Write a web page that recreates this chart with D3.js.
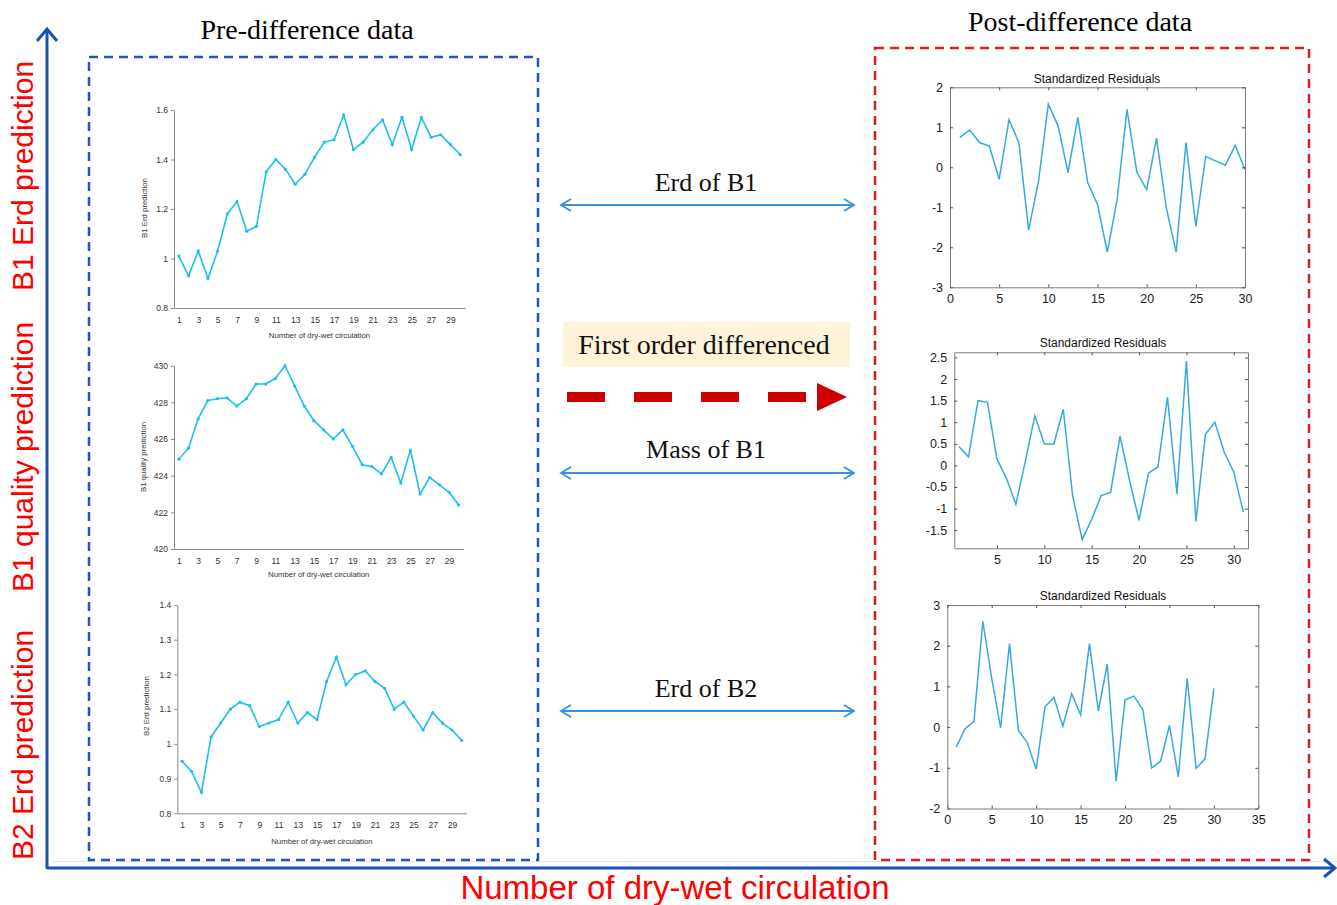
<!DOCTYPE html>
<html>
<head>
<meta charset="utf-8">
<script src="https://cdn.jsdelivr.net/npm/d3@7"></script>
<style>
  body { margin: 0; background: #fff; }
  svg { display: block; }
</style>
</head>
<body>
<script>
// cycles of the pre-difference series
const cycles = d3.range(1, 31);
const oddCycles = cycles.filter(d => d % 2 === 1);

// pre-difference data
const b1Erd = [1.01, 0.93, 1.03, 0.92, 1.03, 1.18, 1.23, 1.11, 1.13, 1.35, 1.40, 1.36, 1.30, 1.34, 1.41,
  1.47, 1.48, 1.58, 1.44, 1.47, 1.52, 1.56, 1.46, 1.57, 1.44, 1.57, 1.49, 1.50, 1.46, 1.42];
const b1Mass = [424.9, 425.5, 427.1, 428.1, 428.2, 428.25, 427.8, 428.2, 429.0, 429.0, 429.3, 430.0, 428.9, 427.8, 427.0,
  426.5, 426.0, 426.5, 425.6, 424.6, 424.5, 424.1, 425.0, 423.6, 425.4, 423.0, 423.9, 423.5, 423.1, 422.4];
const b2Erd = [0.95, 0.92, 0.86, 1.02, 1.06, 1.10, 1.12, 1.11, 1.05, 1.06, 1.07, 1.12, 1.06, 1.09, 1.07,
  1.18, 1.25, 1.17, 1.20, 1.21, 1.18, 1.16, 1.10, 1.12, 1.08, 1.04, 1.09, 1.06, 1.04, 1.01];

// post-difference standardized residuals
const resErdB1 = [0.75, 0.93, 0.62, 0.53, -0.30, 1.19, 0.62, -1.57, -0.35, 1.58, 1.03, -0.13, 1.25, -0.38, -0.93,
  -2.12, -0.80, 1.45, -0.12, -0.56, 0.73, -1.02, -2.12, 0.62, -1.48, 0.27, 0.16, 0.05, 0.55, -0.06];
const resMassB1 = [0.43, 0.20, 1.50, 1.46, 0.15, -0.30, -0.90, 0.10, 1.15, 0.50, 0.49, 1.30, -0.72, -1.72, -1.25,
  -0.70, -0.62, 0.68, -0.35, -1.27, -0.18, -0.03, 1.58, -0.66, 2.42, -1.30, 0.72, 1.00, 0.30, -0.15, -1.08];
const resErdB2 = [-0.49, -0.04, 0.14, 2.60, 1.20, -0.02, 2.05, -0.08, -0.38, -1.03, 0.50, 0.73, 0.02, 0.82, 0.30,
  2.05, 0.40, 1.55, -1.33, 0.67, 0.76, 0.43, -1.00, -0.84, 0.04, -1.22, 1.20, -1.01, -0.78, 0.95];

// tick values
const ticksB1Erd = [0.8, 1, 1.2, 1.4, 1.6];
const ticksB1Mass = [420, 422, 424, 426, 428, 430];
const ticksB2Erd = [0.8, 0.9, 1, 1.1, 1.2, 1.3, 1.4];
const resTicksY1 = [-3, -2, -1, 0, 1, 2];
const resTicksX1 = [0, 5, 10, 15, 20, 25, 30];
const resTicksY2 = [-1.5, -1, -0.5, 0, 0.5, 1, 1.5, 2, 2.5];
const resTicksX2 = [5, 10, 15, 20, 25, 30];
const resTicksY3 = [-2, -1, 0, 1, 2, 3];
const resTicksX3 = [0, 5, 10, 15, 20, 25, 30, 35];

const sideLabels = ["B1 Erd prediction", "B1 quality prediction", "B2 Erd prediction"];
const linkLabels = ["Erd of B1", "Mass of B1", "Erd of B2"];

const W = 1337, H = 905;
const sans = "Arial, 'Liberation Sans', Helvetica, sans-serif";
const serif = "'Times New Roman', 'Liberation Serif', serif";

const svg = d3.select("body").append("svg")
  .attr("width", W)
  .attr("height", H);

// ---- frame: big axes, boxes, titles ----
svg.append("line").attr("x1", 52).attr("x2", W).attr("y1", 861.5).attr("y2", 861.5)
  .attr("stroke", "#e2e2e2").attr("stroke-width", 1);

const axisBlue = "#1a50b8";
svg.append("line").attr("x1", 47).attr("y1", 869).attr("x2", 47).attr("y2", 29)
  .attr("stroke", axisBlue).attr("stroke-width", 3);
svg.append("path").attr("d", "M37,41 L47,29 L57,41").attr("fill", "none")
  .attr("stroke", axisBlue).attr("stroke-width", 3);
svg.append("line").attr("x1", 47).attr("y1", 868).attr("x2", 1335).attr("y2", 868)
  .attr("stroke", axisBlue).attr("stroke-width", 3);
svg.append("path").attr("d", "M1324,859 L1335,868 L1324,877").attr("fill", "none")
  .attr("stroke", axisBlue).attr("stroke-width", 3);

// red side labels
const sideY = [176, 457, 745];
sideLabels.forEach((t, i) => {
  svg.append("text")
    .attr("transform", `translate(33,${sideY[i]}) rotate(-90)`)
    .attr("text-anchor", "middle")
    .style("font-family", sans).style("font-size", "30px").attr("fill", "#f00")
    .text(t);
});
svg.append("text").attr("x", 675).attr("y", 899).attr("text-anchor", "middle")
  .style("font-family", sans).style("font-size", "33px").attr("fill", "#f00")
  .text("Number of dry-wet circulation");

// dashed boxes
svg.append("rect").attr("x", 89).attr("y", 57).attr("width", 449).attr("height", 803)
  .attr("fill", "none").attr("stroke", "#2254c4").attr("stroke-width", 2.5)
  .attr("stroke-dasharray", "9,6");
svg.append("rect").attr("x", 875).attr("y", 48).attr("width", 434).attr("height", 812)
  .attr("fill", "none").attr("stroke", "#d42222").attr("stroke-width", 2.5)
  .attr("stroke-dasharray", "9,6");

svg.append("text").attr("x", 307).attr("y", 39).attr("text-anchor", "middle")
  .style("font-family", serif).style("font-size", "28px").attr("fill", "#000")
  .text("Pre-difference data");
svg.append("text").attr("x", 1080).attr("y", 31).attr("text-anchor", "middle")
  .style("font-family", serif).style("font-size", "28px").attr("fill", "#000")
  .text("Post-difference data");

// ---- middle: links and the differencing arrow ----
const linkY = [205, 473, 711];
const linkTextY = [191, 458, 697];
const arrowBlue = "#3a92da";
linkLabels.forEach((t, i) => {
  const y = linkY[i];
  svg.append("text").attr("x", 706).attr("y", linkTextY[i]).attr("text-anchor", "middle")
    .style("font-family", serif).style("font-size", "26px").attr("fill", "#111")
    .text(t);
  svg.append("line").attr("x1", 561).attr("x2", 854).attr("y1", y).attr("y2", y)
    .attr("stroke", arrowBlue).attr("stroke-width", 1.8);
  svg.append("path").attr("d", `M571,${y - 6} L561,${y} L571,${y + 6}`)
    .attr("fill", "none").attr("stroke", arrowBlue).attr("stroke-width", 1.8);
  svg.append("path").attr("d", `M844,${y - 6} L854,${y} L844,${y + 6}`)
    .attr("fill", "none").attr("stroke", arrowBlue).attr("stroke-width", 1.8);
});

svg.append("rect").attr("x", 563).attr("y", 322).attr("width", 287).attr("height", 45)
  .attr("fill", "#fdf3d8");
svg.append("text").attr("x", 704).attr("y", 354).attr("text-anchor", "middle")
  .style("font-family", serif).style("font-size", "28px").attr("fill", "#111")
  .text("First order differenced");

svg.append("line").attr("x1", 567).attr("x2", 807).attr("y1", 397).attr("y2", 397)
  .attr("stroke", "#cc0000").attr("stroke-width", 10).attr("stroke-dasharray", "38,29");
svg.append("path").attr("d", "M817,383 L847,397 L817,411 Z").attr("fill", "#cc0000");

// ---- pre-difference charts (spreadsheet style) ----
const preLine = "#1dbff0";

function preChart(cfg) {
  const x = d3.scalePoint().domain(cycles).range([cfg.x0, cfg.x1]).padding(0.5);
  const y = d3.scaleLinear().domain(cfg.yDomain).range([cfg.y1, cfg.y0]);
  const g = svg.append("g");

  const xa = g.append("g").attr("transform", `translate(0,${cfg.y1})`)
    .call(d3.axisBottom(x).tickValues(oddCycles).tickSize(0).tickPadding(9));
  const ya = g.append("g").attr("transform", `translate(${cfg.x0},0)`)
    .call(d3.axisLeft(y).tickValues(cfg.ticks).tickSizeInner(3).tickSizeOuter(0)
      .tickPadding(3).tickFormat(d => String(d)));
  [xa, ya].forEach(a => {
    a.select(".domain").attr("stroke", "#8a8a8a");
    a.selectAll(".tick line").attr("stroke", "#8a8a8a");
    a.selectAll("text").style("font-family", sans).style("font-size", "8.5px").attr("fill", "#333");
  });

  g.append("path").datum(cfg.values)
    .attr("fill", "none").attr("stroke", preLine).attr("stroke-width", 1.6)
    .attr("d", d3.line().x((d, i) => x(cycles[i])).y(d => y(d)));
  g.selectAll("circle").data(cfg.values).join("circle")
    .attr("cx", (d, i) => x(cycles[i])).attr("cy", d => y(d)).attr("r", 1.6)
    .attr("fill", preLine);

  g.append("text")
    .attr("transform", `translate(${cfg.ylabX},${cfg.ylabY}) rotate(-90)`)
    .attr("text-anchor", "middle")
    .style("font-family", sans).style("font-size", "7.8px").attr("fill", "#333")
    .text(cfg.ylabel);
  g.append("text").attr("x", (cfg.x0 + cfg.x1) / 2).attr("y", cfg.xlabY).attr("text-anchor", "middle")
    .style("font-family", sans).style("font-size", "7.8px").attr("fill", "#333")
    .text("Number of dry-wet circulation");
}

preChart({ values: b1Erd, yDomain: [0.8, 1.6], ticks: ticksB1Erd, ylabel: "B1 Erd prediction",
  x0: 174, x1: 465, y0: 110, y1: 308, ylabX: 146.5, ylabY: 208, xlabY: 338 });
preChart({ values: b1Mass, yDomain: [420, 430], ticks: ticksB1Mass, ylabel: "B1 quality prediction",
  x0: 174, x1: 463.5, y0: 365.7, y1: 549, ylabX: 146, ylabY: 457, xlabY: 577 });
preChart({ values: b2Erd, yDomain: [0.8, 1.4], ticks: ticksB2Erd, ylabel: "B2 Erd prediction",
  x0: 177.3, x1: 466.5, y0: 605, y1: 813.3, ylabX: 149, ylabY: 706, xlabY: 844 });

// ---- post-difference charts (MATLAB style) ----
const postLine = "#36a9e1";

function postChart(cfg) {
  const x = d3.scaleLinear().domain(cfg.xDomain).range([cfg.x0, cfg.x1]);
  const y = d3.scaleLinear().domain(cfg.yDomain).range([cfg.y1, cfg.y0]);
  const g = svg.append("g");

  g.append("path").datum(cfg.values)
    .attr("fill", "none").attr("stroke", postLine).attr("stroke-width", 1.5)
    .attr("d", d3.line().x((d, i) => x(i + 1)).y(d => y(d)));

  const fmt = d => String(d);
  const axes = [
    g.append("g").attr("transform", `translate(0,${cfg.y1})`)
      .call(d3.axisBottom(x).tickValues(cfg.xTicks).tickSizeInner(-3).tickSizeOuter(0).tickPadding(7).tickFormat(fmt)),
    g.append("g").attr("transform", `translate(0,${cfg.y0})`)
      .call(d3.axisTop(x).tickValues(cfg.xTicks).tickSizeInner(-3).tickSizeOuter(0).tickFormat("")),
    g.append("g").attr("transform", `translate(${cfg.x0},0)`)
      .call(d3.axisLeft(y).tickValues(cfg.yTicks).tickSizeInner(-3).tickSizeOuter(0).tickPadding(7).tickFormat(fmt)),
    g.append("g").attr("transform", `translate(${cfg.x1},0)`)
      .call(d3.axisRight(y).tickValues(cfg.yTicks).tickSizeInner(-3).tickSizeOuter(0).tickFormat(""))
  ];
  axes.forEach(a => {
    a.select(".domain").attr("stroke", "#7a7a7a");
    a.selectAll(".tick line").attr("stroke", "#555");
    a.selectAll("text").style("font-family", sans).style("font-size", "12.5px").attr("fill", "#222");
  });

  g.append("text").attr("x", cfg.titleX).attr("y", cfg.titleY).attr("text-anchor", "middle")
    .style("font-family", sans).style("font-size", "12px").attr("fill", "#111")
    .text("Standardized Residuals");
}

postChart({ values: resErdB1, xDomain: [0, 30], yDomain: [-3, 2], xTicks: resTicksX1, yTicks: resTicksY1,
  x0: 950, x1: 1245, y0: 87.3, y1: 287.3, titleX: 1097, titleY: 83 });
postChart({ values: resMassB1, xDomain: [0.5, 31.5], yDomain: [-1.92, 2.62], xTicks: resTicksX2, yTicks: resTicksY2,
  x0: 954.3, x1: 1248, y0: 352.3, y1: 548.3, titleX: 1103, titleY: 347 });
postChart({ values: resErdB2, xDomain: [0, 35], yDomain: [-2, 3], xTicks: resTicksX3, yTicks: resTicksY3,
  x0: 947.3, x1: 1258.3, y0: 605, y1: 808.5, titleX: 1103, titleY: 600 });
</script>
</body>
</html>
